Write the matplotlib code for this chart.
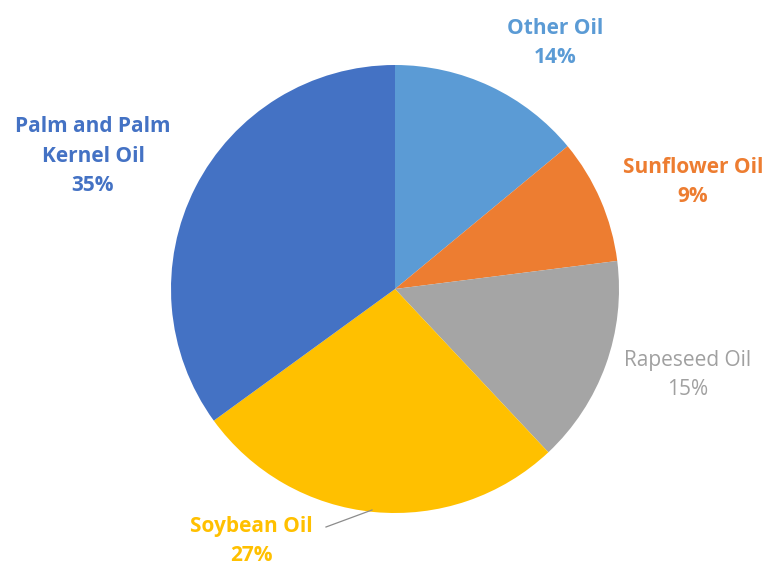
import matplotlib.pyplot as plt

# shares of world vegetable oil output, clockwise from 12 o'clock
oils = ["Other Oil", "Sunflower Oil", "Rapeseed Oil", "Soybean Oil", "Palm and Palm\nKernel Oil"]
shares = [14, 9, 15, 27, 35]
slice_colors = ["#5B9BD5", "#ED7D31", "#A5A5A5", "#FFC000", "#4472C4"]
text_colors = ["#5B9BD5", "#ED7D31", "#A0A0A0", "#FFC000", "#4472C4"]
weights = ["bold", "bold", "normal", "bold", "bold"]

# label centres in pixels (x from left, y from top)
label_xy = [(555, 43), (693, 182), (688, 375), (251, 541), (93, 156)]

W, H = 773, 568
fig = plt.figure(figsize=(W / 100, H / 100), dpi=100)
ax = fig.add_axes([0, 0, 1, 1])

ax.pie(shares, colors=slice_colors, startangle=90, counterclock=False,
       center=(395, H - 289), radius=224,
       wedgeprops=dict(linewidth=0))

for name, val, (x, y), c, wt in zip(oils, shares, label_xy, text_colors, weights):
    ax.text(x, H - y, f"{name}\n{val}%", ha="center", va="center",
            color=c, fontsize=15, fontweight=wt, family=["Open Sans", "DejaVu Sans"],
            linespacing=1.55)

# leader line for the soybean label
ax.plot([326, 372], [H - 527, H - 510], color="#8C8C8C", lw=0.9)

ax.set_xlim(0, W)
ax.set_ylim(0, H)
ax.set_aspect("equal")
ax.axis("off")

fig.savefig("out.png", dpi=100, facecolor="white")
